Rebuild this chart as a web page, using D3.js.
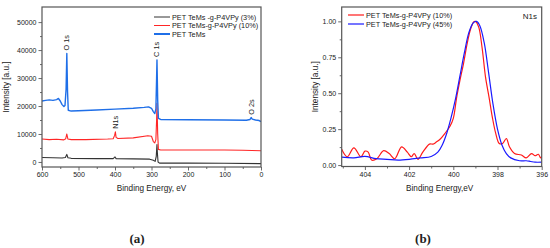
<!DOCTYPE html>
<html>
<head>
<meta charset="utf-8">
<script src="https://cdn.jsdelivr.net/npm/d3@7"></script>
<style>
  body { margin: 0; background: #fff; }
  text { font-family: "Liberation Sans", Arial, sans-serif; fill: #222; }
</style>
</head>
<body>
<svg id="canvas" width="550" height="248"></svg>
<script>
// ---- panel (a): survey spectra, [binding energy, intensity]
let surveyNames = ['PET TeMs -g-P4VPy (3%)', 'PET TeMs-g-P4VPy (10%)', 'PET TeMs'];
let surveyColors = ['#333333', '#ff2626', '#1f6fe8'];
let survey3 = [[600,1600],[570,1500],[545,1400],[536,1600],[532,2700],[529,1500],[520,1300],[450,1200],[405,1200],[400,1800],[397,1200],[350,1100],[305,1000],[295,600],[290,200],[287,2000],[285,6200],[284,3500],[282,0],[278,-400],[200,-400],[100,-450],[0,-600]];
let survey10 = [[600,8200],[580,8000],[560,8100],[540,7900],[535,8300],[532,10000],[529,8200],[520,8000],[480,8000],[420,8200],[405,8300],[401,9500],[399,10800],[397,8800],[392,8400],[350,8600],[310,9400],[300,9200],[295,7300],[291,6800],[288,8000],[286,15000],[285,21000],[283,10000],[281,4500],[275,4300],[200,4300],[100,4300],[50,4200],[0,4000]];
let surveyPure = [[600,21800],[590,22000],[580,22200],[570,22000],[560,22300],[555,22700],[550,21800],[545,20500],[540,19800],[537,20200],[534,26000],[532,38800],[530,25000],[528,18500],[520,18200],[500,18300],[450,18600],[400,18900],[350,19200],[320,19500],[308,19700],[300,19200],[295,18000],[291,17300],[288,19000],[286,30000],[285,36500],[283,22000],[281,15600],[275,15200],[200,15100],[100,15000],[40,14900],[30,15200],[27,15900],[24,15300],[15,15000],[5,14800],[0,14400]];
let surveyPeaks = [['O 1s', 532, 39500], ['C 1s', 285, 37200], ['N1s', 399, 11500], ['O 2s', 27, 16500]];
let surveyXTicks = [600, 500, 400, 300, 200, 100, 0];
let surveyYTicks = [0, 10000, 20000, 30000, 40000, 50000];

// ---- panel (b): N1s high resolution, [binding energy, normalised intensity]
let n1sNames = ['PET TeMs-g-P4VPy (10%)', 'PET TeMs-g-P4VPy (45%)'];
let n1sColors = ['#ff1a1a', '#1a1aff'];
let n1s10 = [[405.05,0.11],[404.8,0.058],[404.5,0.12],[404.18,0.058],[404.0,0.097],[403.85,0.09],[403.7,0.035],[403.46,0.044],[403.15,0.10],[402.9,0.08],[402.65,0.044],[402.34,0.127],[402.08,0.09],[401.9,0.058],[401.77,0.08],[401.6,0.04],[401.38,0.09],[401.08,0.146],[400.92,0.146],[400.77,0.16],[400.6,0.18],[400.38,0.22],[400.15,0.27],[400.0,0.325],[399.85,0.47],[399.7,0.59],[399.54,0.705],[399.38,0.84],[399.23,0.94],[399.08,0.996],[399.0,1.0],[398.85,0.96],[398.7,0.82],[398.54,0.61],[398.38,0.47],[398.23,0.33],[398.08,0.22],[397.92,0.15],[397.77,0.15],[397.6,0.185],[397.46,0.127],[397.23,0.08],[396.92,0.07],[396.7,0.05],[396.46,0.08],[396.3,0.065],[396.15,0.075],[396.05,0.05],[396.0,0.06]];
let n1s45 = [[405.05,0.055],[404.5,0.05],[404.0,0.06],[403.5,0.045],[403.0,0.04],[402.5,0.035],[402.0,0.04],[401.5,0.05],[401.0,0.06],[400.7,0.09],[400.5,0.14],[400.3,0.22],[400.1,0.33],[399.9,0.46],[399.7,0.62],[399.5,0.78],[399.3,0.92],[399.1,0.99],[398.95,1.0],[398.8,0.97],[398.6,0.85],[398.4,0.64],[398.2,0.42],[398.0,0.25],[397.8,0.14],[397.6,0.08],[397.4,0.05],[397.0,0.03],[396.7,0.03],[396.5,0.025],[396.3,0.02],[396.0,0.02]];
let n1sXTicks = [404, 402, 400, 398, 396];
let n1sYTicks = [0, 0.25, 0.5, 0.75, 1];

let canvas = d3.select('#canvas');

//draws a framed panel with outward major/minor ticks, returns the plot group
let drawPanel = (opt) => {
    let x = d3.scaleLinear().domain(opt.xDomain).range([opt.left, opt.right]);
    let y = d3.scaleLinear().domain(opt.yDomain).range([opt.bottom, opt.top]);
    let g = canvas.append('g');

    //minor ticks
    g.append('g')
        .attr('transform', 'translate(0,' + opt.bottom + ')')
        .call(d3.axisBottom(x).tickValues(opt.xMinor).tickSize(2).tickFormat(''))
        .call(a => a.select('.domain').remove());
    g.append('g')
        .attr('transform', 'translate(' + opt.left + ',0)')
        .call(d3.axisLeft(y).tickValues(opt.yMinor).tickSize(2).tickFormat(''))
        .call(a => a.select('.domain').remove());

    //major ticks with labels
    let xAxis = g.append('g')
        .attr('transform', 'translate(0,' + opt.bottom + ')')
        .call(d3.axisBottom(x).tickValues(opt.xTicks).tickSize(3.5).tickPadding(2).tickFormat(opt.xFormat));
    let yAxis = g.append('g')
        .attr('transform', 'translate(' + opt.left + ',0)')
        .call(d3.axisLeft(y).tickValues(opt.yTicks).tickSize(3.5).tickPadding(2).tickFormat(opt.yFormat));
    [xAxis, yAxis].forEach(a => {
        a.select('.domain').remove();
        a.selectAll('text').style('font-size', '7px').attr('fill', '#222')
            .style('font-family', '"Liberation Sans", Arial, sans-serif');
    });
    g.selectAll('.tick line').attr('stroke', '#444').attr('stroke-width', 0.8);

    //clip for curves
    let clipId = 'clip' + opt.left;
    g.append('clipPath').attr('id', clipId)
        .append('rect')
        .attr('x', opt.left).attr('y', opt.top)
        .attr('width', opt.right - opt.left).attr('height', opt.bottom - opt.top);

    let plot = g.append('g').attr('clip-path', 'url(#' + clipId + ')');

    //frame
    g.append('rect')
        .attr('x', opt.left).attr('y', opt.top)
        .attr('width', opt.right - opt.left).attr('height', opt.bottom - opt.top)
        .attr('fill', 'none').attr('stroke', '#555').attr('stroke-width', 1.2);

    //axis titles
    g.append('text')
        .attr('x', (opt.left + opt.right) / 2 + opt.xTitleShift)
        .attr('y', opt.bottom + 24)
        .attr('text-anchor', 'middle')
        .style('font-size', '8.2px')
        .text(opt.xTitle);
    g.append('text')
        .attr('transform', 'translate(' + opt.yTitleX + ',' + (opt.top + opt.bottom) / 2 + ') rotate(-90)')
        .attr('text-anchor', 'middle')
        .style('font-size', '8.2px')
        .text('Intensity [a.u.]');

    //panel letter
    g.append('text')
        .attr('x', opt.letterX).attr('y', 243)
        .attr('text-anchor', 'middle')
        .style('font-family', '"Liberation Serif", "Times New Roman", serif')
        .style('font-weight', 'bold')
        .style('font-size', '13px')
        .attr('fill', '#111')
        .text(opt.letter);

    return {x: x, y: y, g: g, plot: plot};
};

//legend rows: short line + label
let drawLegend = (g, names, colors, x0, y0, dy, widths) => {
    names.forEach((name, i) => {
        g.append('line')
            .attr('x1', x0).attr('x2', x0 + 16)
            .attr('y1', y0 + i * dy).attr('y2', y0 + i * dy)
            .attr('stroke', colors[i]).attr('stroke-width', widths[i]);
        g.append('text')
            .attr('x', x0 + 18).attr('y', y0 + i * dy + 2.6)
            .style('font-size', '7.3px')
            .text(name);
    });
};

// ---------- panel (a)
let pa = drawPanel({
    left: 42, right: 261, top: 7, bottom: 167,
    xDomain: [600, 0], yDomain: [-1800, 55400],
    xTicks: surveyXTicks, xMinor: d3.range(550, 0, -100),
    yTicks: surveyYTicks, yMinor: d3.range(5000, 55000, 10000),
    xFormat: d3.format('d'), yFormat: d3.format('d'),
    xTitle: 'Binding Energy, eV', xTitleShift: 0, yTitleX: 9,
    letter: '(a)', letterX: 137
});
let lineA = d3.line().x(d => pa.x(d[0])).y(d => pa.y(d[1]));
[survey3, survey10, surveyPure].forEach((series, i) => {
    pa.plot.append('path')
        .datum(series)
        .attr('d', lineA)
        .attr('fill', 'none')
        .attr('stroke', surveyColors[i])
        .attr('stroke-width', i === 2 ? 1.4 : 1.1)
        .attr('stroke-linejoin', 'round');
});
//peak labels, rotated, with the label reading upward
surveyPeaks.forEach(p => {
    pa.g.append('text')
        .attr('transform', 'translate(' + (pa.x(p[1]) + 2.5) + ',' + (pa.y(p[2]) - 1) + ') rotate(-90)')
        .attr('text-anchor', 'start')
        .style('font-size', '7.3px')
        .text(p[0]);
});
drawLegend(pa.g, surveyNames, surveyColors, 154, 17, 8.5, [1, 1, 2]);

// ---------- panel (b)
let pb = drawPanel({
    left: 341.7, right: 541.7, top: 7, bottom: 166.5,
    xDomain: [405.05, 396], yDomain: [-0.01, 1.1],
    xTicks: n1sXTicks, xMinor: [405, 403, 401, 399, 397],
    yTicks: n1sYTicks, yMinor: [0.125, 0.375, 0.625, 0.875],
    xFormat: d3.format('d'), yFormat: d3.format('.2f'),
    xTitle: 'Binding Energy,eV', xTitleShift: -2, yTitleX: 318,
    letter: '(b)', letterX: 423
});
let lineB = d3.line().x(d => pb.x(d[0])).y(d => pb.y(d[1])).curve(d3.curveCatmullRom);
[n1s10, n1s45].forEach((series, i) => {
    pb.plot.append('path')
        .datum(series)
        .attr('d', lineB)
        .attr('fill', 'none')
        .attr('stroke', n1sColors[i])
        .attr('stroke-width', 1.2);
});
drawLegend(pb.g, n1sNames, n1sColors, 348, 15, 9, [1.2, 1.2]);
pb.g.append('text')
    .attr('x', 537).attr('y', 19)
    .attr('text-anchor', 'end')
    .style('font-size', '8px')
    .text('N1s');
</script>
</body>
</html>
